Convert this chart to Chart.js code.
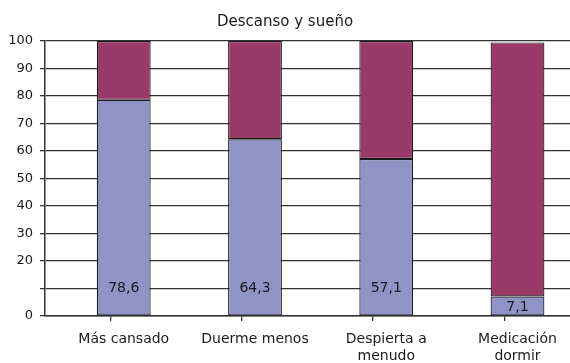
<!DOCTYPE html>
<html lang="es">
<head>
    <meta charset="UTF-8">
    <title>Descanso y sueño</title>
    <script src="https://cdn.jsdelivr.net/npm/chart.js"></script>
    <style>
        html, body { margin: 0; padding: 0; background: #fff; }
        #wrap { width: 570px; height: 363px; }
    </style>
</head>
<body>
<div id="wrap"><canvas id="suenoChart"></canvas></div>

<script>
    // categorias y porcentajes
    const categorias = [['Más cansado'], ['Duerme menos'], ['Despierta a', 'menudo'], ['Medicación', 'dormir']];
    const valoresSi = [78.6, 64.3, 57.1, 7.1];
    const valoresResto = [21.4, 35.7, 42.9, 92.4];
    const ticksOcultos = [10];
    // limites de cada categoria en el eje x (las barras van algo a la derecha)
    const limitesX = [-0.6, 0.4, 1.4, 2.4, 3.4];

    const fuente = 'DejaVu Sans, Verdana, sans-serif';

    // escribe el valor dentro de la barra azul, cerca de la base
    const etiquetasValor = {
        id: 'etiquetasValor',
        afterDatasetsDraw(chart) {
            const ctx = chart.ctx;
            const meta = chart.getDatasetMeta(0);
            const y = chart.scales.y;
            ctx.save();
            ctx.font = '14px ' + fuente;
            ctx.fillStyle = '#1a1a1a';
            ctx.textAlign = 'center';
            ctx.textBaseline = 'middle';
            meta.data.forEach(function(bar, i) {
                const v = valoresSi[i];
                const yPos = y.getPixelForValue(Math.min(v, 21) / 2);
                ctx.fillText(v.toFixed(1).replace('.', ','), bar.x, yPos + 1);
            });
            ctx.restore();
        }
    };

    const puntos = function(arr) {
        return arr.map(function(v, i) { return { x: i, y: v }; });
    };

    new Chart(document.getElementById('suenoChart'), {
        type: 'bar',
        data: {
            datasets: [{
                data: puntos(valoresSi),
                backgroundColor: '#8f93c5',
                borderColor: '#1a1a1a',
                borderWidth: 1.2,
                borderSkipped: false,
                barPercentage: 0.41,
                categoryPercentage: 1
            }, {
                data: puntos(valoresResto),
                backgroundColor: '#993a69',
                borderColor: '#1a1a1a',
                borderWidth: 1.2,
                borderSkipped: false,
                barPercentage: 0.41,
                categoryPercentage: 1
            }]
        },
        options: {
            responsive: true,
            maintainAspectRatio: false,
            animation: false,
            layout: { padding: 0 },
            plugins: {
                legend: { display: false },
                tooltip: { enabled: false },
                title: {
                    display: true,
                    text: 'Descanso y sueño',
                    color: '#1a1a1a',
                    font: { family: fuente, size: 15, weight: 'normal', lineHeight: 1.2 },
                    padding: { top: 13, bottom: 10 }
                }
            },
            scales: {
                // nombres de las categorias
                x: {
                    type: 'linear',
                    stacked: true,
                    offset: false,
                    min: limitesX[0],
                    max: limitesX[limitesX.length - 1],
                    weight: 1,
                    afterBuildTicks(scale) {
                        scale.ticks = categorias.map(function(c, i) { return { value: i }; });
                    },
                    afterFit(scale) { scale.height = 42; },
                    grid: { display: false, drawTicks: false },
                    border: { display: false },
                    ticks: {
                        color: '#1a1a1a',
                        font: { family: fuente, size: 14, lineHeight: 1.2 },
                        padding: 10,
                        maxRotation: 0,
                        autoSkip: false,
                        callback: function(v) { return categorias[v]; }
                    }
                },
                // eje con las marcas entre categorias
                x2: {
                    type: 'linear',
                    position: 'bottom',
                    offset: false,
                    min: limitesX[0],
                    max: limitesX[limitesX.length - 1],
                    weight: 0,
                    afterBuildTicks(scale) {
                        scale.ticks = limitesX.map(function(v) { return { value: v }; });
                    },
                    afterFit(scale) { scale.height = 5; },
                    grid: {
                        drawOnChartArea: false,
                        color: '#333',
                        lineWidth: 1.3,
                        tickLength: 5
                    },
                    border: { color: '#333', width: 1.5 },
                    ticks: { display: false }
                },
                y: {
                    stacked: true,
                    min: 0,
                    max: 100,
                    afterFit(scale) { scale.width = 45; },
                    grid: {
                        color: '#333',
                        lineWidth: 1.3,
                        tickLength: 5
                    },
                    border: { color: '#333', width: 1.5 },
                    ticks: {
                        stepSize: 10,
                        color: '#1a1a1a',
                        font: { family: fuente, size: 13 },
                        padding: 7,
                        callback: function(v) { return ticksOcultos.includes(v) ? '' : v; }
                    }
                }
            }
        },
        plugins: [etiquetasValor]
    });
</script>
</body>
</html>
